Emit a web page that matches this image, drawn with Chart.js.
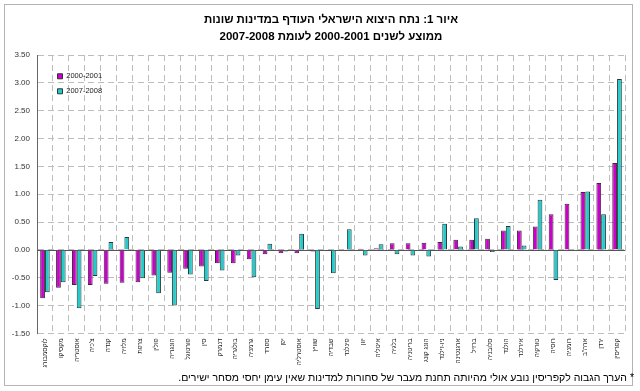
<!DOCTYPE html>
<html><head><meta charset="utf-8">
<script src="https://cdn.jsdelivr.net/npm/chart.js@4/dist/chart.umd.min.js"></script>
<style>html,body{margin:0;padding:0;background:#fff}#wrap{width:640px;height:391px;position:relative}</style>
</head><body><div id="wrap"><canvas id="c" width="640" height="391"></canvas></div>
<script>
const categories = ["לוקסמבורג","מקסיקו","אוסטריה","צ'כיה","קנדה","מלזיה","צרפת","פולין","הונגריה","פורטוגל","סין","דנמרק","בולגריה","גרמניה","ספרד","יפן","אוסטרליה","שוויץ","שבדיה","פינלנד","יוון","איטליה","בלגיה","בריטניה","הונג קונג","ניו-זילנד","ארגנטינה","ברזיל","סלובניה","הולנד","אירלנד","טורקיה","רוסיה","רומניה","ארה\"ב","ירדן","קפריסין"];
const series2000_2001 = [-0.87,-0.68,-0.63,-0.63,-0.61,-0.59,-0.58,-0.46,-0.41,-0.34,-0.30,-0.24,-0.24,-0.17,-0.08,-0.06,-0.06,-0.03,-0.02,0.01,0.02,0.03,0.12,0.12,0.13,0.14,0.18,0.18,0.20,0.35,0.35,0.42,0.64,0.83,1.04,1.20,1.56];
const series2007_2008 = [-0.76,-0.58,-1.05,-0.47,0.14,0.23,-0.51,-0.78,-1.00,-0.44,-0.56,-0.37,-0.10,-0.49,0.11,-0.03,0.29,-1.06,-0.42,0.37,-0.10,0.10,-0.08,-0.10,-0.12,0.47,0.06,0.57,-0.04,0.43,0.08,0.90,-0.54,0.01,1.05,0.64,3.07];
const seriesNames = ["2000-2001","2007-2008"];
const yMin = -1.5, yMax = 3.5, yStep = 0.5;
const titleLines = ["איור 1: נתח היצוא הישראלי העודף במדינות שונות","ממוצע לשנים 2000-2001 לעומת 2007-2008"];
const footnote = "* הערך הגבוה לקפריסין נובע אולי מהיותה תחנת מעבר של סחורות למדינות שאין עימן יחסי מסחר ישירים.";

Chart.defaults.font.family = 'Arial, "Liberation Sans", sans-serif';

const decor = {
  id: 'decor',
  beforeDraw(chart) {
    const c = chart.ctx;
    c.save();
    c.fillStyle = '#fff';
    c.fillRect(0, 0, chart.width, chart.height);
    c.strokeStyle = '#b4b4b4';
    c.lineWidth = 1;
    c.strokeRect(4.5, 4.5, 628, 381);
    c.restore();
  },
  beforeDatasetsDraw(chart) {
    const c = chart.ctx, a = chart.chartArea;
    const y0 = Math.round(chart.scales.y.getPixelForValue(0)) + 0.5;
    c.save();
    c.strokeStyle = '#555';
    c.lineWidth = 1;
    c.beginPath();
    c.moveTo(a.left, y0);
    c.lineTo(a.right, y0);
    c.stroke();
    c.restore();
  },
  afterLayout(chart) {
    const lg = chart.legend, a = chart.chartArea;
    if (lg) {
      const h = lg.height, w = lg.width;
      lg.left = a.left + 13; lg.right = lg.left + w;
      lg.top = a.top + 10; lg.bottom = lg.top + h;
    }
  }
};

new Chart(document.getElementById('c'), {
  type: 'bar',
  data: {
    labels: categories,
    datasets: [
      { label: seriesNames[0], data: series2000_2001, backgroundColor: '#CC00CC', borderColor: '#3a2a3a', borderWidth: 1, categoryPercentage: 0.6, barPercentage: 1.0 },
      { label: seriesNames[1], data: series2007_2008, backgroundColor: '#22CCCC', borderColor: '#2a3a3a', borderWidth: 1, categoryPercentage: 0.6, barPercentage: 1.0 }
    ]
  },
  options: {
    responsive: false,
    animation: false,
    devicePixelRatio: 1,
    layout: { padding: { left: 0, right: 6, top: 4, bottom: 4 } },
    plugins: {
      title: {
        display: true,
        fullSize: false,
        text: titleLines,
        color: '#000',
        font: { size: 11.5, weight: 'bold', lineHeight: 1.48 },
        padding: { top: 7, bottom: 10 }
      },
      subtitle: {
        display: true,
        position: 'bottom',
        align: 'end',
        text: '\u200F' + footnote + '\u200F',
        color: '#000',
        font: { size: 10.5 },
        padding: { top: 0, bottom: 3 }
      },
      legend: {
        position: 'chartArea',
        align: 'start',
        labels: { boxWidth: 5, boxHeight: 5, padding: 7.5, color: '#222', font: { size: 7.5 } }
      },
      tooltip: { enabled: false }
    },
    scales: {
      x: {
        grid: { color: '#bdbdbd', drawTicks: false, offset: true },
        border: { display: false, dash: [6, 4] },
        ticks: { autoSkip: false, maxRotation: 90, minRotation: 90, padding: 5, color: '#222', font: { size: 6.5 } },
        afterFit(s) { s.height = 38; }
      },
      y: {
        min: yMin, max: yMax,
        grid: { color: '#bdbdbd', drawTicks: false },
        border: { display: true, color: '#666', dash: [6, 4] },
        ticks: { stepSize: yStep, padding: 7, color: '#333', font: { size: 8 }, callback: v => Number(v).toFixed(2) },
        afterFit(s) { s.width = 37; }
      },
      y2: {
        position: 'right',
        display: true,
        grid: { display: false, drawTicks: false },
        border: { display: false },
        ticks: { display: false },
        afterFit(s) { s.width = 9; }
      }
    }
  },
  plugins: [decor]
});
</script>
</body></html>
